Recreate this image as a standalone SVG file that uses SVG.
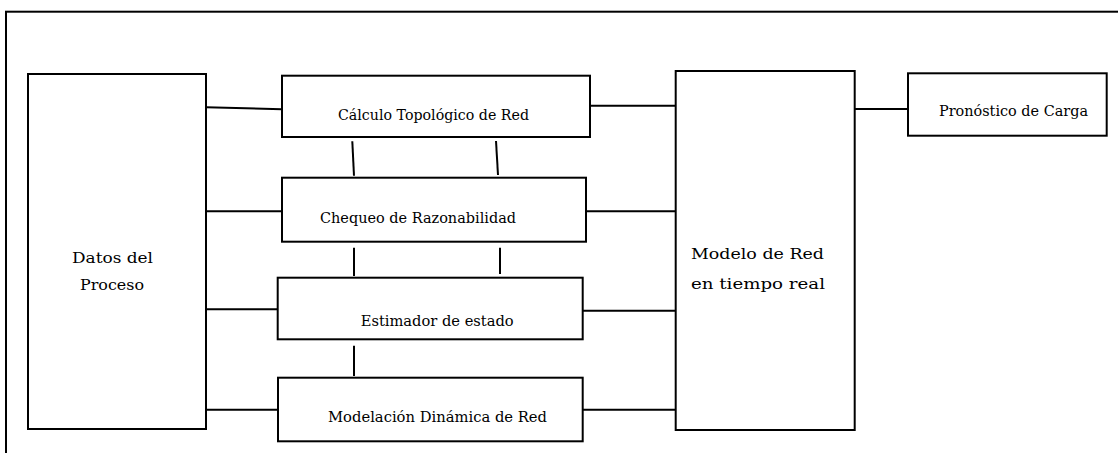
<svg xmlns="http://www.w3.org/2000/svg" width="1118" height="453" viewBox="0 0 1118 453">
<style>
.box{fill:#fff;stroke:#000;stroke-width:2}
.ln{stroke:#000;stroke-width:2;fill:none}
text{font-family:"DejaVu Serif","Liberation Serif",serif;font-size:14.5px;fill:#000}
</style>
<rect width="1118" height="453" fill="#fff"/>
<rect id="frame" x="6" y="11.7" width="1200" height="500" fill="none" stroke="#000" stroke-width="2"/>
<g id="connectors">
<line class="ln" x1="206" y1="107.3" x2="282" y2="109.3"/>
<line class="ln" x1="203" y1="211.3" x2="282" y2="211.3"/>
<line class="ln" x1="206" y1="309.3" x2="278" y2="309.3"/>
<line class="ln" x1="206" y1="409.7" x2="278" y2="409.7"/>
<line class="ln" x1="352.3" y1="141.3" x2="354" y2="175.7"/>
<line class="ln" x1="496" y1="141" x2="498" y2="175"/>
<line class="ln" x1="354" y1="247.7" x2="354" y2="276"/>
<line class="ln" x1="500" y1="247.7" x2="500" y2="274"/>
<line class="ln" x1="354" y1="345.7" x2="354" y2="376"/>
<line class="ln" x1="590" y1="105.7" x2="676" y2="105.7"/>
<line class="ln" x1="586" y1="211.3" x2="676" y2="211.3"/>
<line class="ln" x1="582.7" y1="310.7" x2="676" y2="310.7"/>
<line class="ln" x1="582.7" y1="409.7" x2="676" y2="409.7"/>
<line class="ln" x1="854.7" y1="109" x2="908" y2="109"/>
</g>
<g id="datos">
<rect class="box" x="28" y="74" width="178" height="355"/>
<text x="72" y="262.5" textLength="81" lengthAdjust="spacingAndGlyphs">Datos del</text>
<text x="80" y="290" textLength="64" lengthAdjust="spacingAndGlyphs">Proceso</text>
</g>
<g id="calculo">
<rect class="box" x="282" y="75.7" width="308" height="61.3"/>
<text x="338" y="120" textLength="191" lengthAdjust="spacingAndGlyphs">Cálculo Topológico de Red</text>
</g>
<g id="chequeo">
<rect class="box" x="282" y="177.7" width="304" height="64"/>
<text x="320" y="223" textLength="196" lengthAdjust="spacingAndGlyphs">Chequeo de Razonabilidad</text>
</g>
<g id="estimador">
<rect class="box" x="277.7" y="277.7" width="305" height="61.6"/>
<text x="360.7" y="326" textLength="153" lengthAdjust="spacingAndGlyphs">Estimador de estado</text>
</g>
<g id="modelacion">
<rect class="box" x="278" y="377.7" width="304.7" height="63.6"/>
<text x="328" y="421.7" textLength="219" lengthAdjust="spacingAndGlyphs">Modelación Dinámica de Red</text>
</g>
<g id="modelo">
<rect class="box" x="675.7" y="71" width="179" height="359"/>
<text x="691" y="259" textLength="133" lengthAdjust="spacingAndGlyphs">Modelo de Red</text>
<text x="691" y="289" textLength="134" lengthAdjust="spacingAndGlyphs">en tiempo real</text>
</g>
<g id="pronostico">
<rect class="box" x="908" y="73.3" width="198.7" height="62.4"/>
<text x="939" y="115.7" textLength="149" lengthAdjust="spacingAndGlyphs">Pronóstico de Carga</text>
</g>
</svg>
